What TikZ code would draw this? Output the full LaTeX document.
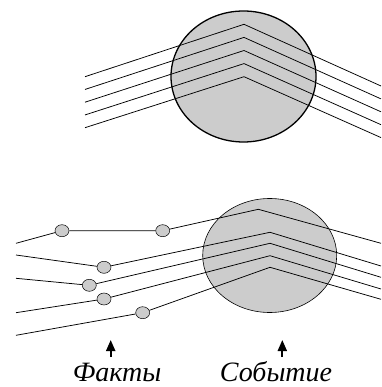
\documentclass[tikz,border=0pt]{standalone}
\usepackage{fontspec}
\setmainfont{Liberation Serif}
\usetikzlibrary{shapes.geometric,arrows.meta}
\tikzset{
  bigcirc/.style={fill=black!20, draw=black, line width=1.3pt},
  bigell/.style={fill=black!20, draw=black, line width=0.6pt},
  fact/.style={ellipse, draw=black, line width=0.5pt, fill=black!20, minimum width=14pt, minimum height=12pt, inner sep=0pt},
  ln/.style={line width=0.75pt},
  uparrow/.style={-{Triangle[length=11pt,width=9pt]}, line width=2pt},
  lbl/.style={font=\itshape\fontsize{28}{30}\selectfont, inner sep=0pt}
}
\begin{document}
\begin{tikzpicture}[x=1pt,y=-1pt]
\useasboundingbox (0,0) rectangle (381,387);
% top
\draw[bigcirc] (243.5,76.5) ellipse [x radius=72.5, y radius=65.5];
\foreach \k in {0,...,4}{
  \coordinate (ta\k) at (85,{76.7+12.75*\k});
  \coordinate (tp\k) at (244,{24.3+13.1*\k});
  \coordinate (tb\k) at (381,{86+12.9*\k});
  \draw[ln] (ta\k) -- (tp\k) -- (tb\k);
}
% bottom
\draw[bigell] (269.7,255.5) ellipse [x radius=67, y radius=57];
\node[fact] (f1) at (62,230.7) {};
\node[fact] (f1b) at (162.7,230.7) {};
\node[fact] (f2) at (104,267.3) {};
\node[fact] (f3) at (89.3,285.3) {};
\node[fact] (f4) at (104,299) {};
\node[fact] (f5) at (142.7,312.7) {};
\coordinate (s1) at (16,243.3);
\coordinate (s2) at (16,255);
\coordinate (s3) at (16,278.3);
\coordinate (s4) at (16,312.7);
\coordinate (s5) at (16,335.3);
\coordinate (p1) at (258.3,209.3);
\coordinate (p2) at (270,232.3);
\coordinate (p3) at (270,243.3);
\coordinate (p4) at (270,255.7);
\coordinate (p5) at (270,267.3);
\coordinate (e1) at (381,243.3);
\coordinate (e2) at (381,266);
\coordinate (e3) at (381,277.3);
\coordinate (e4) at (381,289);
\coordinate (e5) at (381,299.3);
\draw[ln] (s1) -- (f1) -- (f1b) -- (p1) -- (e1);
\draw[ln] (s2) -- (f2) -- (p2) -- (e2);
\draw[ln] (s3) -- (f3) -- (p3) -- (e3);
\draw[ln] (s4) -- (f4) -- (p4) -- (e4);
\draw[ln] (s5) -- (f5) -- (p5) -- (e5);
% labels
\node[lbl, anchor=base] (lf) at (117,381) {Факты};
\node[lbl, anchor=base] (ls) at (276,381) {Событие};
\coordinate (af0) at (110.7,357);
\coordinate (af1) at (110.7,340);
\coordinate (as0) at (282.3,357);
\coordinate (as1) at (282.3,340);
\draw[uparrow] (af0) -- (af1);
\draw[uparrow] (as0) -- (as1);
\end{tikzpicture}
\end{document}
